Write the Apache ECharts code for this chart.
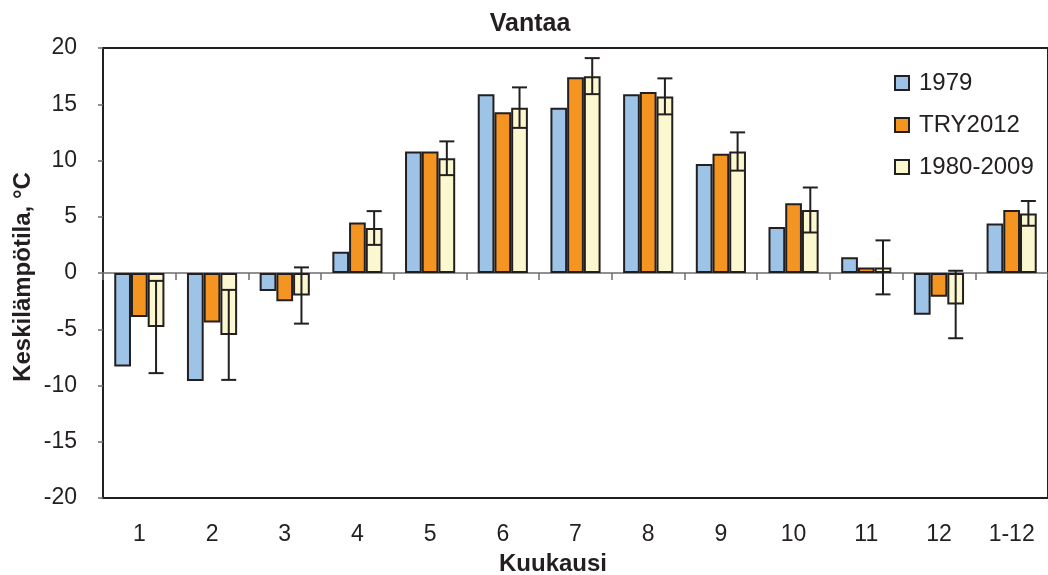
<!DOCTYPE html>
<html>
<head>
<meta charset="utf-8">
<script src="https://cdn.jsdelivr.net/npm/echarts@6/dist/echarts.min.js"></script>
<style>
  html, body { margin: 0; padding: 0; background: #ffffff; }
  #chart { width: 1048px; height: 575px; }
</style>
</head>
<body>
<div id="chart"></div>
<script>
// Monthly mean temperatures, Vantaa
const months = ['1', '2', '3', '4', '5', '6', '7', '8', '9', '10', '11', '12', '1-12'];
const temp1979 = [-8.3, -9.6, -1.6, 1.9, 10.8, 15.9, 14.7, 15.9, 9.7, 4.1, 1.4, -3.7, 4.4];
const tempTRY2012 = [-3.9, -4.4, -2.5, 4.5, 10.8, 14.3, 17.4, 16.1, 10.6, 6.2, 0.5, -2.1, 5.6];
const temp1980_2009 = [-4.8, -5.5, -2.0, 4.0, 10.2, 14.7, 17.5, 15.7, 10.8, 5.6, 0.5, -2.8, 5.3];
// standard deviation of the 1980-2009 monthly means
const std1980_2009 = [4.1, 4.0, 2.5, 1.5, 1.5, 1.8, 1.6, 1.6, 1.7, 2.0, 2.4, 3.0, 1.1];
const yTicks = { min: -20, max: 20, step: 5 };

const FONT = '"Liberation Sans", Arial, Helvetica, sans-serif';
const INK = '#231F20';
const GREY = '#6D6E71';
const BAR_FRACTION = 0.23;

const chart = echarts.init(document.getElementById('chart'), null, { renderer: 'canvas' });

const barStyle = (color) => ({ color: color, borderColor: INK, borderWidth: 2 });

const errorData = months.map((m, i) => [i, temp1980_2009[i], std1980_2009[i]]);

const option = {
  backgroundColor: '#ffffff',
  animation: false,
  textStyle: { fontFamily: FONT, color: INK },
  grid: {
    left: 103, top: 48, width: 954, height: 450,
    show: true, borderColor: INK, borderWidth: 2, backgroundColor: 'transparent'
  },
  legend: {
    orient: 'vertical',
    left: 889, top: 66,
    itemWidth: 14, itemHeight: 14, itemGap: 18,
    icon: 'rect',
    data: ['1979', 'TRY2012', '1980-2009'],
    textStyle: { fontFamily: FONT, fontSize: 24, color: INK, lineHeight: 24, padding: [0, 0, 0, 5] }
  },
  graphic: [
    { type: 'text', x: 530, y: 24,
      style: { text: 'Vantaa', font: 'bold 25px ' + FONT, fill: INK, textAlign: 'center', textVerticalAlign: 'middle' } },
    { type: 'text', x: 23, y: 277, rotation: Math.PI / 2,
      style: { text: 'Keskilämpötila, °C', font: 'bold 24px ' + FONT, fill: INK, textAlign: 'center', textVerticalAlign: 'middle' } },
    { type: 'text', x: 553, y: 564,
      style: { text: 'Kuukausi', font: 'bold 24px ' + FONT, fill: INK, textAlign: 'center', textVerticalAlign: 'middle' } }
  ],
  xAxis: [
    {
      type: 'category', data: months, position: 'bottom',
      axisLine: { onZero: false, lineStyle: { color: INK, width: 2 } },
      axisTick: { show: false },
      axisLabel: { fontFamily: FONT, fontSize: 23, color: INK, margin: 25 },
      splitLine: { show: false }
    },
    {
      type: 'category', data: months, position: 'bottom',
      axisLine: { onZero: true, lineStyle: { color: GREY, width: 1.5 } },
      axisTick: { show: true, length: 7, lineStyle: { color: GREY, width: 1.5 } },
      axisLabel: { show: false },
      splitLine: { show: false }
    }
  ],
  yAxis: {
    type: 'value', min: yTicks.min, max: yTicks.max, interval: yTicks.step,
    axisLine: { show: true, lineStyle: { color: INK, width: 2 } },
    axisTick: { show: true, length: 5, lineStyle: { color: GREY, width: 1.5 } },
    axisLabel: { fontFamily: FONT, fontSize: 23, color: INK, margin: 26 },
    splitLine: { show: false }
  },
  series: [
    { name: '1979', type: 'bar', xAxisIndex: 0, data: temp1979,
      barWidth: (BAR_FRACTION * 100) + '%', barGap: '0%', itemStyle: barStyle('#9DC3E6') },
    { name: 'TRY2012', type: 'bar', xAxisIndex: 0, data: tempTRY2012,
      barWidth: (BAR_FRACTION * 100) + '%', barGap: '0%', itemStyle: barStyle('#F39520') },
    { name: '1980-2009', type: 'bar', xAxisIndex: 0, data: temp1980_2009,
      barWidth: (BAR_FRACTION * 100) + '%', barGap: '0%', itemStyle: barStyle('#FBF7CF') },
    {
      name: 'std', type: 'custom', xAxisIndex: 0, z: 10, data: errorData,
      renderItem: function (params, api) {
        const idx = api.value(0);
        const mean = api.value(1);
        const sd = api.value(2);
        const dx = api.size([1, 0])[0] * BAR_FRACTION;
        const hi = api.coord([idx, mean + sd]);
        const lo = api.coord([idx, mean - sd]);
        const x = hi[0] + dx;
        const cap = 7.5;
        const st = { stroke: INK, lineWidth: 2 };
        return {
          type: 'group',
          children: [
            { type: 'line', shape: { x1: x, y1: hi[1], x2: x, y2: lo[1] }, style: st },
            { type: 'line', shape: { x1: x - cap, y1: hi[1], x2: x + cap, y2: hi[1] }, style: st },
            { type: 'line', shape: { x1: x - cap, y1: lo[1], x2: x + cap, y2: lo[1] }, style: st }
          ]
        };
      }
    }
  ]
};

chart.setOption(option);
</script>
</body>
</html>
